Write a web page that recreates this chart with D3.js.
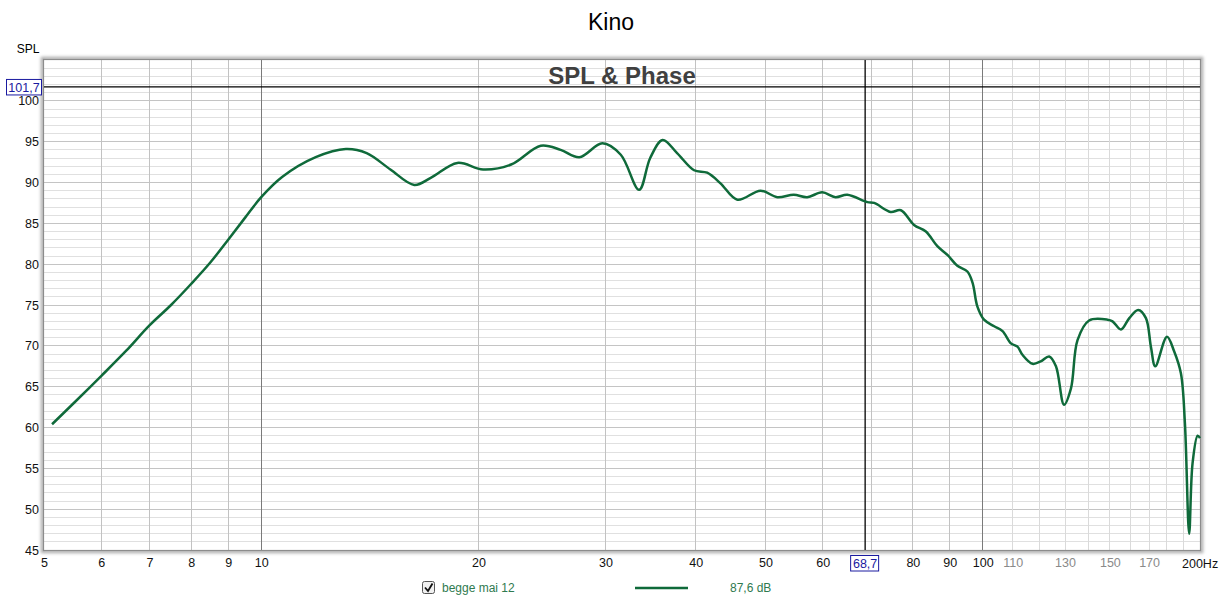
<!DOCTYPE html>
<html>
<head>
<meta charset="utf-8">
<script src="https://cdn.jsdelivr.net/npm/d3@7"></script>
<style>
  html, body { margin: 0; padding: 0; background: #ffffff; }
  svg { display: block; font-family: "Liberation Sans", Arial, sans-serif; }
</style>
</head>
<body>
<svg id="chart" width="1222" height="603"></svg>
<script>
// ---- data ----
const freqHz = [5.13, 5.5, 6, 6.5, 7, 7.5, 8, 8.5, 9, 9.5, 10, 10.7, 11.9, 13.1, 14.0, 15.1, 16.3, 17.2, 18.7, 20.3,
  22.2, 24.4, 26.0, 27.6, 29.7, 31.5, 33.4, 34.6, 36.0, 37.7, 39.8, 41.5, 43.3, 45.7, 49.2, 51.9, 54.7, 57.1,
  59.9, 62.5, 64.9, 69.2, 70.7, 74.5, 77.0, 80.3, 83.4, 86.5, 89.4, 92.2, 95.2, 96.8, 98.3, 100.4, 103.7, 106.5,
  109.4, 111.7, 113.5, 117.2, 120.3, 123.6, 126.3, 129.6, 132.5, 135.3, 140.4, 148.9, 151.3, 155.4, 159.6, 164.2,
  168.3, 171.0, 173.4, 180.0, 184.2, 188.2, 190.6, 193.2, 195.3, 198.5, 200];
const splDb = [60.4, 63.0, 66.3, 69.4, 72.5, 75.0, 77.6, 80.2, 83.0, 85.7, 88.2, 90.7, 93.1, 94.1, 93.6, 91.6, 89.7, 90.6, 92.4, 91.6,
  92.2, 94.5, 94.0, 93.1, 94.8, 93.4, 89.1, 93.0, 95.2, 93.6, 91.5, 91.2, 89.9, 87.9, 89.0, 88.2, 88.5, 88.2,
  88.8, 88.2, 88.5, 87.6, 87.5, 86.4, 86.6, 84.8, 84.0, 82.2, 81.1, 79.8, 79.1, 77.7, 74.8, 73.2, 72.4, 71.8,
  70.3, 69.9, 68.9, 67.8, 68.1, 68.7, 67.5, 62.8, 64.8, 70.7, 73.1, 73.2, 73.0, 72.0, 73.4, 74.4,
  73.4, 69.9, 67.5, 71.1, 69.3, 66.6, 60.5, 47.0, 55.6, 59.0, 58.7];

const yTicks = [45, 50, 55, 60, 65, 70, 75, 80, 85, 90, 95, 100];
const xTickLabels = [5, 6, 7, 8, 9, 10, 20, 30, 40, 50, 60, 80, 90, 100, 110, 130, 150, 170];
const xGrayLabels = [110, 130, 150, 170];
const xGridLines = [6, 7, 8, 9, 20, 30, 40, 50, 60, 70, 80, 90];
const xFineGrid = [110, 120, 130, 140, 150, 160, 170, 180, 190];
const xDecades = [10, 100];
const cursorFreq = 68.7;
const cursorSpl = 101.7;
const titleText = "Kino";
const plotTitle = "SPL & Phase";
const seriesName = "begge mai 12";
const seriesReadout = "87,6 dB";

// ---- layout ----
const L = 44, R = 1200, T = 60, B = 550;
const svg = d3.select("#chart");
const x = d3.scaleLog().domain([5, 200]).range([L, R]);
const y = d3.scaleLinear().domain([45, 105]).range([B, T]);
const green = "#0f6a3a";

// frame shadow
const defs = svg.append("defs");
const f = defs.append("filter").attr("id", "glow").attr("x", "-5%").attr("y", "-5%").attr("width", "110%").attr("height", "110%");
f.append("feGaussianBlur").attr("stdDeviation", 1.5);
svg.append("rect").attr("x", L - 1.5).attr("y", T - 1.5).attr("width", R - L + 3).attr("height", B - T + 3)
  .attr("fill", "none").attr("stroke", "#b0b0b0").attr("stroke-width", 3.5).attr("filter", "url(#glow)");
svg.append("rect").attr("x", L).attr("y", T).attr("width", R - L).attr("height", B - T).attr("fill", "#fff");

// horizontal grid
const g = svg.append("g");
d3.range(46, 105).forEach(v => {
  const major = v % 5 === 0;
  g.append("line").attr("x1", L).attr("x2", R).attr("y1", y(v)).attr("y2", y(v))
    .attr("stroke", major ? "#c4c4c4" : "#e0e0e0").attr("stroke-width", 1).attr("shape-rendering", "crispEdges");
});
// vertical grid
xFineGrid.forEach(v => g.append("line").attr("x1", x(v)).attr("x2", x(v)).attr("y1", T).attr("y2", B)
  .attr("stroke", "#dadada").attr("shape-rendering", "crispEdges"));
xGridLines.forEach(v => g.append("line").attr("x1", x(v)).attr("x2", x(v)).attr("y1", T).attr("y2", B)
  .attr("stroke", "#c2c2c2").attr("shape-rendering", "crispEdges"));
xDecades.forEach(v => g.append("line").attr("x1", x(v)).attr("x2", x(v)).attr("y1", T).attr("y2", B)
  .attr("stroke", "#7a7a7a").attr("shape-rendering", "crispEdges"));

// frame border
svg.append("rect").attr("x", L - 0.5).attr("y", T - 0.5).attr("width", R - L + 1).attr("height", B - T + 1)
  .attr("fill", "none").attr("stroke", "#8c8c8c").attr("stroke-width", 1.2);

// cursor lines
svg.append("line").attr("x1", L).attr("x2", R).attr("y1", y(cursorSpl)).attr("y2", y(cursorSpl))
  .attr("stroke", "#000").attr("stroke-width", 1.3);
svg.append("line").attr("x1", x(cursorFreq)).attr("x2", x(cursorFreq)).attr("y1", T).attr("y2", B)
  .attr("stroke", "#000").attr("stroke-width", 1.3);

// plot title
svg.append("text").attr("x", 622).attr("y", 84).attr("text-anchor", "middle")
  .attr("font-size", 24).attr("font-weight", "bold").attr("fill", "#404040").text(plotTitle);

// curve
const pts = freqHz.map((fq, i) => [fq, splDb[i]]);
const line = d3.line().x(d => x(d[0])).y(d => y(d[1])).curve(d3.curveCatmullRom.alpha(0.5));
svg.append("path").datum(pts).attr("d", line).attr("fill", "none")
  .attr("stroke", green).attr("stroke-width", 2.5).attr("stroke-linejoin", "round");

// titles
svg.append("text").attr("x", 611).attr("y", 30).attr("text-anchor", "middle")
  .attr("font-size", 23).attr("fill", "#000").text(titleText);
svg.append("text").attr("x", 28).attr("y", 53).attr("text-anchor", "middle")
  .attr("font-size", 12).attr("fill", "#000").text("SPL");

// y axis labels
const yAxis = d3.axisLeft(y).tickValues(yTicks).tickSize(0).tickPadding(4).tickFormat(d3.format("d"));
const ya = svg.append("g").attr("transform", `translate(${L - 1},0)`).call(yAxis);
ya.select(".domain").remove();
ya.selectAll("text").attr("font-size", 12.5).attr("fill", "#111").attr("font-family", "Liberation Sans, Arial, sans-serif");

// y cursor box
const yc = y(cursorSpl);
svg.append("rect").attr("x", 6.5).attr("y", yc - 7.5).attr("width", 35).attr("height", 15.5)
  .attr("fill", "#fff").attr("stroke", "#1a1aa0").attr("stroke-width", 1);
svg.append("text").attr("x", 24).attr("y", yc + 5).attr("text-anchor", "middle")
  .attr("font-size", 12.5).attr("fill", "#1a1aa0").text(String(cursorSpl).replace(".", ","));

// x axis labels
const xAxis = d3.axisBottom(x).tickValues(xTickLabels).tickSize(0).tickPadding(8).tickFormat(d3.format("d"));
const xa = svg.append("g").attr("transform", `translate(0,${B})`).call(xAxis);
xa.select(".domain").remove();
xa.selectAll("text").attr("font-size", 12.5).attr("font-family", "Liberation Sans, Arial, sans-serif")
  .attr("fill", d => xGrayLabels.includes(d) ? "#8a8a8a" : "#111");
svg.append("text").attr("x", x(200) - 18).attr("y", B + 18).attr("font-size", 12.5).attr("fill", "#111").text("200Hz");

// x cursor box
const xc = x(cursorFreq);
svg.append("rect").attr("x", xc - 14.5).attr("y", 555.5).attr("width", 28).attr("height", 15.5)
  .attr("fill", "#fff").attr("stroke", "#1a1aa0").attr("stroke-width", 1);
svg.append("text").attr("x", xc).attr("y", 568).attr("text-anchor", "middle")
  .attr("font-size", 12.5).attr("fill", "#1a1aa0").text(String(cursorFreq).replace(".", ","));

// legend
const lg = svg.append("g");
lg.append("rect").attr("x", 422.5).attr("y", 581.5).attr("width", 12).attr("height", 12).attr("rx", 2)
  .attr("fill", "#f0f0f0").attr("stroke", "#555").attr("stroke-width", 1);
lg.append("path").attr("d", "M425,587.5 L428,591 L432.5,583.5").attr("fill", "none")
  .attr("stroke", "#111").attr("stroke-width", 1.8);
lg.append("text").attr("x", 442).attr("y", 592).attr("font-size", 12).attr("fill", "#2f7a50").text(seriesName);
lg.append("line").attr("x1", 635).attr("x2", 688).attr("y1", 588).attr("y2", 588)
  .attr("stroke", green).attr("stroke-width", 2.5);
lg.append("text").attr("x", 730).attr("y", 592).attr("font-size", 12).attr("fill", "#2f7a50").text(seriesReadout);
</script>
</body>
</html>
